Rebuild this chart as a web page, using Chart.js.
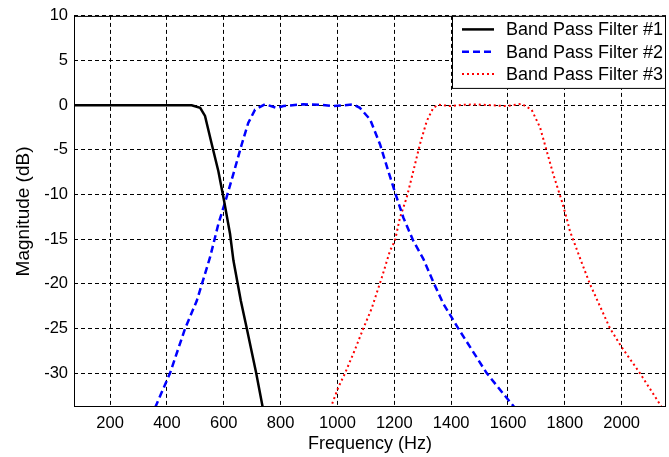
<!DOCTYPE html>
<html>
<head>
<meta charset="utf-8">
<script src="https://cdn.jsdelivr.net/npm/chart.js@4"></script>
<style>
  body { margin: 0; background: #fff; }
</style>
</head>
<body>
<canvas id="myChart" width="669" height="457"></canvas>
<script>
// filter responses (Hz, dB)
let freq1 = [73, 200, 400, 487, 517, 534, 558, 581, 601, 622, 634, 660, 681, 714, 744]
let mag1 = [0, 0, 0, 0, -0.3, -1.2, -4.4, -7.4, -10.7, -14.4, -17.4, -21.9, -25, -30, -35]

let freq2 = [343, 411, 464, 505, 552, 581, 610, 640, 663, 686, 710, 745, 786, 810, 880, 940, 985, 1056, 1079, 1115, 1150, 1179, 1208, 1232, 1267, 1302, 1340, 1372, 1425, 1475, 1525, 1583, 1653]
let mag2 = [-35, -30, -25, -21.9, -17, -13.3, -10.3, -7, -4.4, -2, -0.5, 0.1, -0.3, -0.1, 0.1, 0.05, -0.1, 0.08, -0.3, -1.6, -4.4, -7.4, -10.3, -12.6, -15.2, -17.2, -20, -22.2, -25, -27.5, -30, -32.3, -35]

let freq3 = [963, 1003, 1027, 1060, 1091, 1120, 1156, 1185, 1202, 1220, 1244, 1273, 1290, 1314, 1337, 1355, 1397, 1440, 1490, 1540, 1595, 1648, 1683, 1713, 1736, 1759, 1789, 1806, 1818, 1859, 1888, 1959, 2000, 2064, 2165]
let mag3 = [-35, -31.6, -30, -27.5, -25, -22.8, -19.3, -16.3, -15.2, -12.6, -10.3, -6.6, -4.4, -1.8, -0.3, 0.05, -0.1, 0.05, 0.08, 0, -0.1, 0.15, -0.5, -2.5, -5.1, -7.7, -10.7, -12.6, -14.1, -17.6, -20, -25, -27.1, -30, -35]

let xTicks = [200, 400, 600, 800, 1000, 1200, 1400, 1600, 1800, 2000]
let yTicks = [-30, -25, -20, -15, -10, -5, 0, 5, 10]
let labels = ["Band Pass Filter #1", "Band Pass Filter #2", "Band Pass Filter #3"]

let fonte = "'Liberation Sans', Arial, sans-serif"

function pontos(xs, ys) {
    let arr = []
    for (let i = 0; i < xs.length; i++) {
        arr.push({ x: xs[i], y: ys[i] })
    }
    return arr
}

// box around the plot + legend inside top right corner
const boxPlugin = {
    id: "box",
    afterDatasetsDraw(chart) {
        const c = chart.ctx
        const a = chart.chartArea
        c.save()
        c.strokeStyle = "#000"
        c.lineWidth = 1
        c.setLineDash([])
        c.strokeRect(a.left + 0.5, a.top + 0.5, a.right - a.left - 1, a.bottom - a.top - 1)

        // legend
        let lx = 452, ly = a.top, lw = a.right - 452, lh = 73
        c.fillStyle = "#fff"
        c.fillRect(lx, ly, lw, lh)
        c.strokeRect(lx + 0.5, ly + 0.5, lw - 1, lh - 1)
        const ds = chart.data.datasets
        for (let i = 0; i < ds.length; i++) {
            let y = ly + 13.5 + i * 22.3
            c.beginPath()
            c.strokeStyle = ds[i].borderColor
            c.lineWidth = ds[i].borderWidth
            c.setLineDash(ds[i].borderDash || [])
            c.moveTo(462, y)
            c.lineTo(494, y)
            c.stroke()
            c.setLineDash([])
            c.fillStyle = "#000"
            c.font = "18px " + fonte
            c.textBaseline = "middle"
            c.textAlign = "left"
            c.fillText(labels[i], 506, y + 1)
        }
        c.restore()
    },
}

const ctx = document.getElementById("myChart").getContext("2d")
let myChart = new Chart(ctx, {
    type: "line",
    data: {
        datasets: [
            {
                label: labels[0],
                data: pontos(freq1, mag1),
                borderColor: "#000000",
                borderWidth: 2.5,
                pointRadius: 0,
                tension: 0,
            },
            {
                label: labels[1],
                data: pontos(freq2, mag2),
                borderColor: "#0000ff",
                borderWidth: 2.5,
                borderDash: [7, 4],
                pointRadius: 0,
                tension: 0,
            },
            {
                label: labels[2],
                data: pontos(freq3, mag3),
                borderColor: "#ff0000",
                borderWidth: 2,
                borderDash: [2, 3],
                pointRadius: 0,
                tension: 0,
            },
        ],
    },
    options: {
        responsive: false,
        animation: false,
        layout: { padding: { top: 15, right: 3, left: 0, bottom: 0 } },
        plugins: {
            legend: { display: false },
            tooltip: { enabled: false },
        },
        scales: {
            x: {
                type: "linear",
                min: 73,
                max: 2156,
                afterBuildTicks: (s) => { s.ticks = xTicks.map((v) => ({ value: v })) },
                afterFit: (s) => { s.height = 50 },
                grid: { color: "#000", lineWidth: 1, drawTicks: false },
                border: { display: false, dash: [4, 3] },
                ticks: { color: "#000", padding: 7, maxRotation: 0, font: { family: fonte, size: 16.5 }, callback: (v) => String(v) },
                title: { display: true, text: "Frequency (Hz)", color: "#000", padding: { top: 0, bottom: 2 }, font: { family: fonte, size: 18 } },
            },
            y: {
                min: -33.8,
                max: 10,
                afterBuildTicks: (s) => { s.ticks = yTicks.map((v) => ({ value: v })) },
                afterFit: (s) => { s.width = 74 },
                grid: { color: "#000", lineWidth: 1, drawTicks: false },
                border: { display: false, dash: [4, 3] },
                ticks: { color: "#000", padding: 6, font: { family: fonte, size: 16.5 }, callback: (v) => String(v) },
                title: { display: true, text: "Magnitude (dB)", color: "#000", padding: { top: 12, bottom: 0 }, font: { family: fonte, size: 19 } },
            },
        },
    },
    plugins: [boxPlugin],
})
</script>
</body>
</html>
